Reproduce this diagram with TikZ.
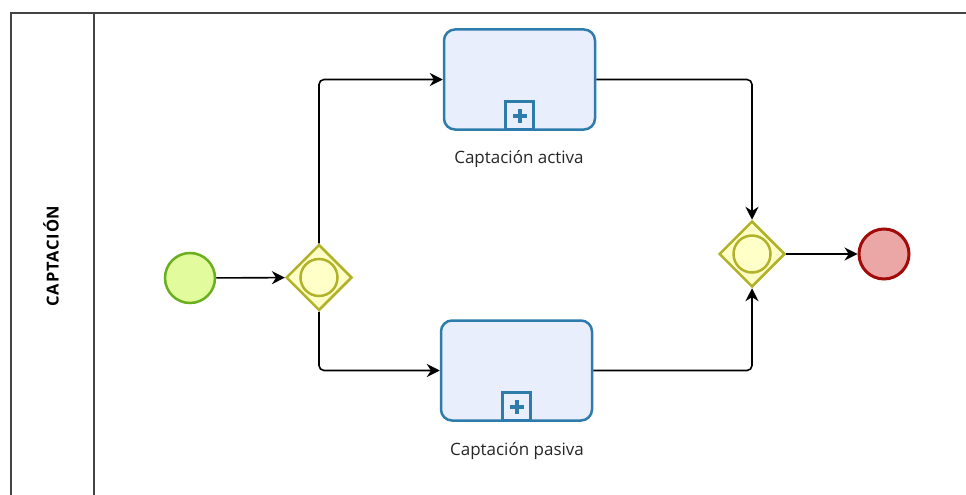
\documentclass[tikz,border=0pt]{standalone}
\usepackage{fontspec}
\setmainfont{Open Sans}
\newfontfamily\lanefont[LetterSpace=5]{Open Sans}
\usetikzlibrary{arrows.meta,shapes.geometric}

\definecolor{poolline}{HTML}{444444}
\definecolor{startfill}{HTML}{E2FB9C}
\definecolor{startdraw}{HTML}{69B01E}
\definecolor{gwfill}{HTML}{FFFFC8}
\definecolor{gwdraw}{HTML}{B2B22A}
\definecolor{taskfill}{HTML}{E9EEFC}
\definecolor{taskdraw}{HTML}{2E7CAB}
\definecolor{endfill}{HTML}{EBA6A6}
\definecolor{enddraw}{HTML}{A30A0A}

\tikzset{
  startev/.style={circle, draw=startdraw, fill=startfill, line width=2.5pt, minimum size=50pt, inner sep=0pt},
  endev/.style={circle, draw=enddraw, fill=endfill, line width=3pt, minimum size=50pt, inner sep=0pt},
  gateway/.style={diamond, draw=gwdraw, fill=gwfill, line width=2.5pt, minimum width=66pt, minimum height=66pt, inner sep=0pt},
  gwring/.style={circle, draw=gwdraw, line width=2.5pt, minimum size=37pt, inner sep=0pt},
  subproc/.style={rectangle, rounded corners=11pt, draw=taskdraw, fill=taskfill, line width=2.5pt, minimum width=151pt, minimum height=100pt, inner sep=0pt},
  marker/.style={rectangle, draw=taskdraw, line width=2.5pt, minimum size=28pt, inner sep=0pt},
  tasklabel/.style={font=\fontsize{17pt}{20pt}\selectfont, text=black!85},
  flow/.style={line width=1.6pt, black, rounded corners=5pt, -{Stealth[length=13pt,width=13pt]}},
}

\begin{document}
\begin{tikzpicture}[x=1pt, y=-1pt]
  \useasboundingbox (0,0) rectangle (966,495);

  % pool and lane header
  \draw[poolline, line width=1.6pt] (11,495) -- (11,13) -- (966,13);
  \draw[poolline, line width=1.6pt] (94,13) -- (94,495);
  \node[rotate=90, font=\lanefont\bfseries\fontsize{16.5pt}{18pt}\selectfont] (lane) at (51,256) {CAPTACIÓN};

  % events and gateways
  \node[startev] (start) at (190,278) {};
  \node[gateway] (split) at (319,277.5) {};
  \node[gwring] at (split) {};
  \node[gateway] (join) at (752,254) {};
  \node[gwring] at (join) {};
  \node[endev] (end) at (884,254) {};

  % collapsed sub-processes
  \node[subproc] (activa) at (519.5,79.5) {};
  \node[marker, anchor=south] (mka) at (activa.south) {};
  \draw[taskdraw, line width=4pt] ([yshift=-7pt]mka.center) -- ([yshift=7pt]mka.center)
        ([xshift=-7pt]mka.center) -- ([xshift=7pt]mka.center);
  \node[tasklabel] (la) at (519,159) {Captación activa};

  \node[subproc] (pasiva) at (516.5,370.5) {};
  \node[marker, anchor=south] (mkp) at (pasiva.south) {};
  \draw[taskdraw, line width=4pt] ([yshift=-7pt]mkp.center) -- ([yshift=7pt]mkp.center)
        ([xshift=-7pt]mkp.center) -- ([xshift=7pt]mkp.center);
  \node[tasklabel] (lp) at (517,451) {Captación pasiva};

  % sequence flows
  \draw[flow] (start) -- (split);
  \draw[flow] (split.north) |- (activa.west);
  \draw[flow] (split.south) |- (pasiva.west);
  \draw[flow] (activa.east) -| (join.north);
  \draw[flow] (pasiva.east) -| (join.south);
  \draw[flow] (join.east) -- (end.west);
\end{tikzpicture}
\end{document}
